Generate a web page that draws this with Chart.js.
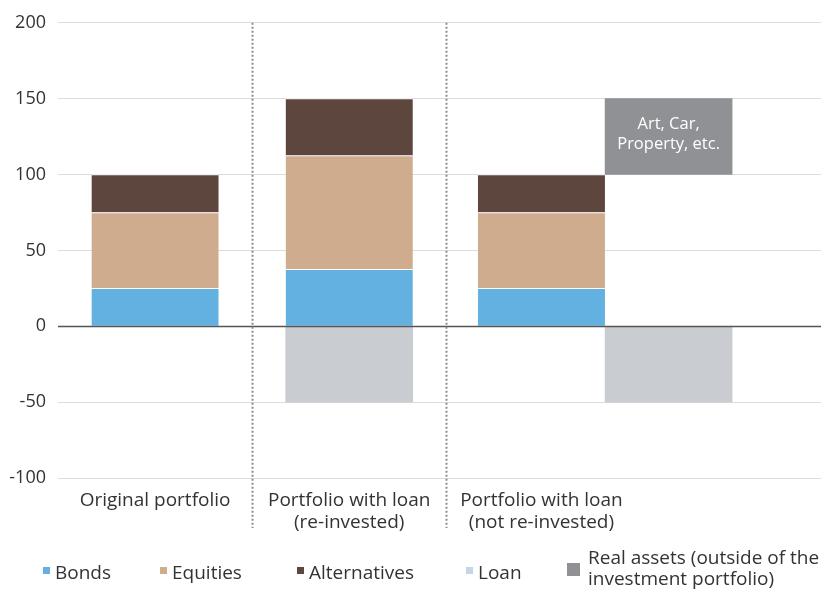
<!DOCTYPE html>
<html>
<head>
<meta charset="utf-8">
<script src="https://cdn.jsdelivr.net/npm/chart.js@4.4.0/dist/chart.umd.min.js"></script>
<style>
  html, body { margin: 0; padding: 0; background: #fff; }
  #wrap { width: 821px; height: 590px; position: relative; }
</style>
</head>
<body>
<div id="wrap"><canvas id="chart"></canvas></div>
<script>
// categories along the bottom
const categories = [['Original portfolio'], ['Portfolio with loan', '(re-invested)'], ['Portfolio with loan', '(not re-invested)']];
// slot 4 is the side column next to "not re-invested"
const slotX = [0.5, 1.5, 2.49, 3.145];
const separators = [1, 2];

const bonds = [25, 37.5, 25, null];
const equities = [50, 75, 50, null];
const alternatives = [25, 37.5, 25, null];
const loan = [null, -50, null, -50];
const realAssets = [null, null, null, [100, 150]];
const realAssetsNote = ['Art, Car,', 'Property, etc.'];

const yTicks = [-100, -50, 0, 50, 100, 150, 200];

const seriesNames = ['Bonds', 'Equities', 'Alternatives', 'Loan', 'Real assets (outside of the investment portfolio)'];
const colors = ['#63b1e0', '#cfac8e', '#5c463d', '#c9ccd1', '#8f9195'];
const legendColors = ['#63b1e0', '#cfac8e', '#5c463d', '#c6d4ea', '#8f9195'];

const toPoints = arr => arr.map((v, i) => ({ x: slotX[i], y: v })).filter(p => p.y !== null);

const FONT = '"Open Sans", sans-serif';

const overlay = {
  id: 'overlay',
  afterDatasetsDraw(chart) {
    const { ctx, chartArea, scales: { x, y } } = chart;
    ctx.save();
    // zero line over the bars
    const y0 = Math.round(y.getPixelForValue(0)) + 0.5;
    ctx.strokeStyle = '#555';
    ctx.lineWidth = 1.5;
    ctx.beginPath();
    ctx.moveTo(chartArea.left, y0);
    ctx.lineTo(chartArea.right, y0);
    ctx.stroke();

    // dotted group separators
    ctx.strokeStyle = '#8e8e8e';
    ctx.lineWidth = 2;
    ctx.setLineDash([2, 2]);
    separators.forEach(v => {
      const px = Math.round(x.getPixelForValue(v)) + 0.5;
      ctx.beginPath();
      ctx.moveTo(px, chartArea.top);
      ctx.lineTo(px, chartArea.bottom + 50);
      ctx.stroke();
    });
    ctx.setLineDash([]);

    // note inside the real assets bar
    const bar = chart.getDatasetMeta(4).data[0];
    if (bar) {
      const cy = (bar.y + bar.base) / 2;
      ctx.fillStyle = '#fff';
      ctx.font = '16.5px ' + FONT;
      ctx.textAlign = 'center';
      ctx.textBaseline = 'middle';
      ctx.fillText(realAssetsNote[0], bar.x, cy - 12);
      ctx.fillText(realAssetsNote[1], bar.x, cy + 8);
    }
    ctx.restore();
  },
  afterDraw(chart) {
    const { ctx } = chart;
    ctx.save();
    ctx.font = '19px ' + FONT;
    ctx.fillStyle = '#333';
    ctx.textBaseline = 'middle';
    ctx.textAlign = 'left';
    const markX = [43, 160, 297, 466];
    for (let i = 0; i < 4; i++) {
      ctx.fillStyle = legendColors[i];
      ctx.fillRect(markX[i], 567, 7, 7);
      ctx.fillStyle = '#333';
      ctx.fillText(seriesNames[i], markX[i] + 12, 574);
    }
    ctx.fillStyle = legendColors[4];
    ctx.fillRect(567, 563, 13, 13);
    ctx.fillStyle = '#333';
    ctx.fillText('Real assets (outside of the', 588, 559);
    ctx.fillText('investment portfolio)', 588, 580);
    ctx.restore();
  }
};

const stackBorder = { top: 1 };

new Chart(document.getElementById('chart'), {
  type: 'bar',
  data: {
    datasets: [
      { label: seriesNames[0], data: toPoints(bonds), backgroundColor: colors[0], borderColor: '#fff', borderWidth: stackBorder, stack: 'a' },
      { label: seriesNames[1], data: toPoints(equities), backgroundColor: colors[1], borderColor: '#fff', borderWidth: stackBorder, stack: 'a' },
      { label: seriesNames[2], data: toPoints(alternatives), backgroundColor: colors[2], borderColor: '#fff', borderWidth: stackBorder, stack: 'a' },
      { label: seriesNames[3], data: toPoints(loan), backgroundColor: colors[3], borderWidth: 0, stack: 'a' },
      { label: seriesNames[4], data: toPoints(realAssets), backgroundColor: colors[4], borderWidth: 0, stack: 'b' }
    ]
  },
  options: {
    responsive: true,
    maintainAspectRatio: false,
    animation: false,
    datasets: { bar: { grouped: false, barThickness: 127 } },
    layout: { padding: { top: 15.5, right: 0, left: 0, bottom: 0 } },
    plugins: { legend: { display: false }, tooltip: { enabled: false } },
    scales: {
      x: {
        type: 'linear',
        min: 0,
        max: 3.93,
        offset: false,
        grid: { display: false },
        border: { display: false },
        afterBuildTicks: axis => { axis.ticks = categories.map((c, i) => ({ value: slotX[i] })); },
        afterFit: axis => { axis.height = 112; },
        ticks: {
          autoSkip: false,
          maxRotation: 0,
          padding: 4,
          color: '#333',
          font: { family: FONT, size: 19, lineHeight: 1.15 },
          callback: (v, i) => categories[i]
        }
      },
      y: {
        stacked: true,
        min: -100,
        max: 200,
        afterBuildTicks: axis => { axis.ticks = yTicks.map(v => ({ value: v })); },
        afterFit: axis => { axis.width = 58; },
        border: { display: false },
        grid: {
          drawTicks: false,
          color: c => c.tick && c.tick.value === 0 ? 'rgba(0,0,0,0)' : '#dcdcdc',
          lineWidth: 1
        },
        ticks: {
          padding: 12,
          color: '#333',
          font: { family: FONT, size: 18 }
        }
      }
    }
  },
  plugins: [overlay]
});
</script>
</body>
</html>
